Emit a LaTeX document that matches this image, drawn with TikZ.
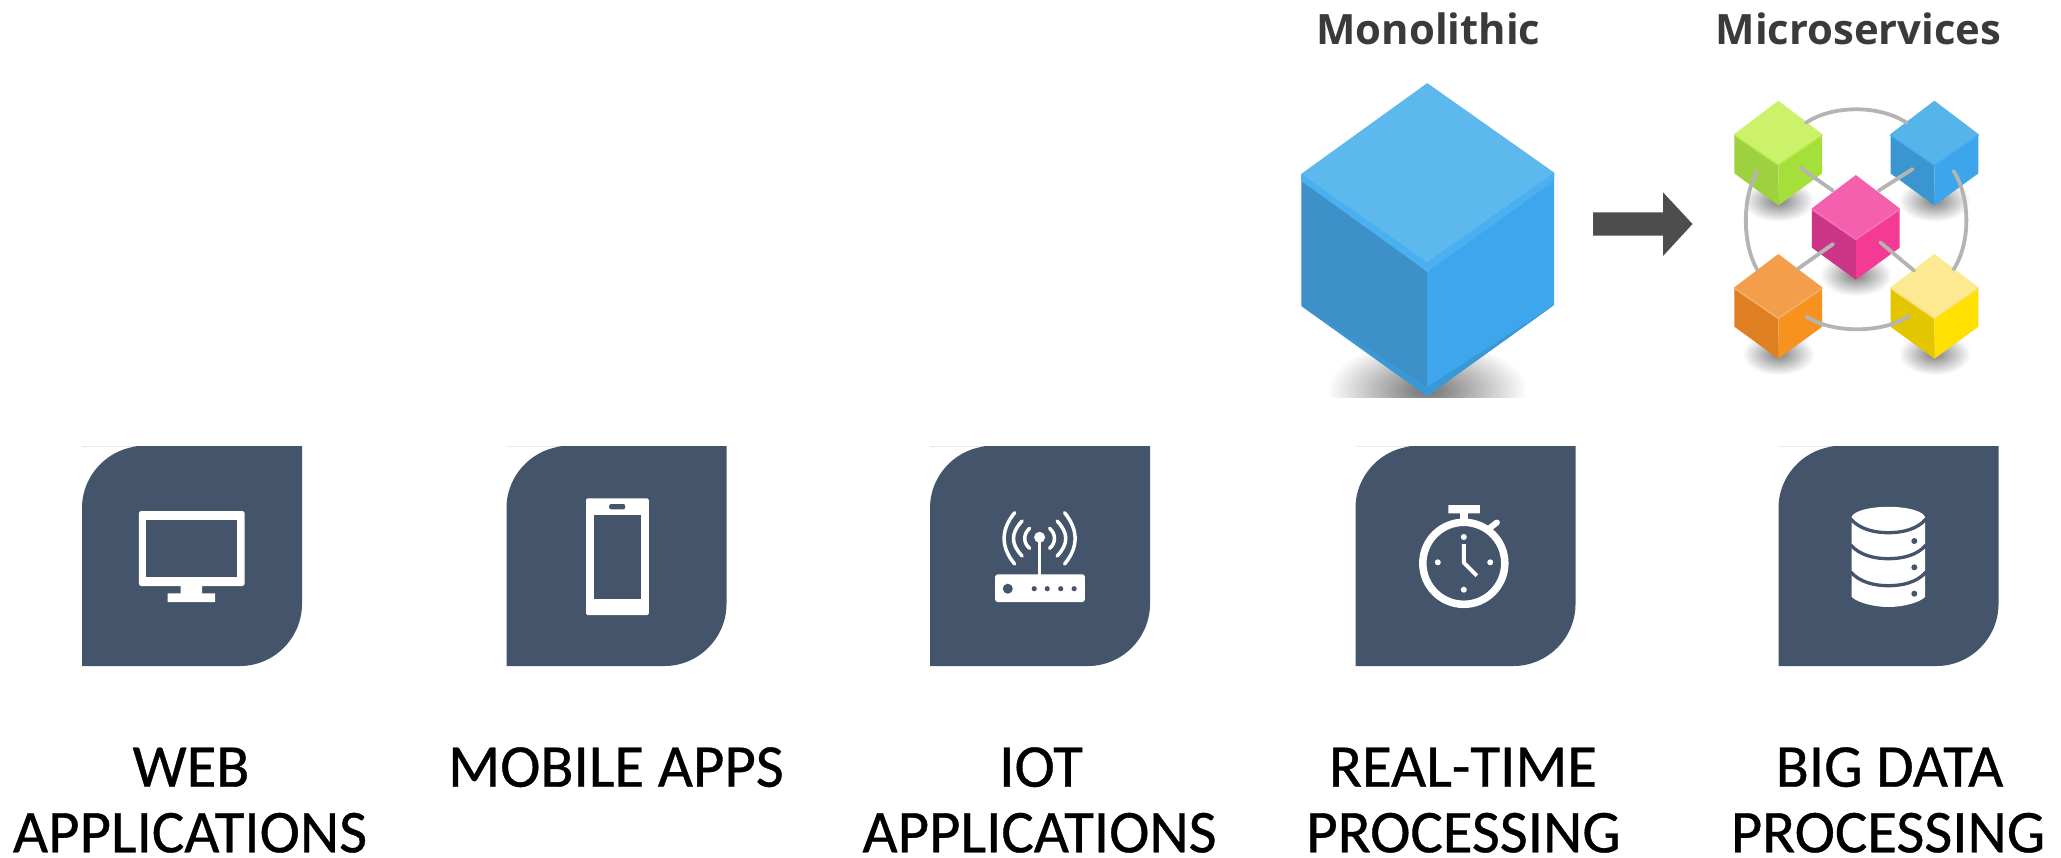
\documentclass[tikz,border=0pt]{standalone}
\usepackage{fontspec}
\setmainfont{Carlito}
\newfontfamily\labfont{Carlito}[FakeBold=0.6]
\newfontfamily\headfont{Open Sans}
\definecolor{tilec}{HTML}{44546A}
\definecolor{linkc}{HTML}{B4B4B4}
\definecolor{arrowc}{HTML}{4D4D4D}
\definecolor{headc}{HTML}{3A3A3A}
\definecolor{bigleft}{HTML}{3D91C8}
\definecolor{bigright}{HTML}{3EA6ED}
\definecolor{bigband}{HTML}{4AB0F0}
\definecolor{bigtop}{HTML}{5DB8EE}
\definecolor{bigfoot}{HTML}{3A98D7}
\definecolor{gT}{HTML}{CCF26B}\definecolor{gL}{HTML}{9ED140}\definecolor{gR}{HTML}{A5E03A}\definecolor{gS}{HTML}{B8EA50}
\definecolor{bT}{HTML}{55B5EB}\definecolor{bL}{HTML}{3B96D0}\definecolor{bR}{HTML}{3CA5EC}\definecolor{bS}{HTML}{4AAEEB}
\definecolor{pT}{HTML}{F45FAE}\definecolor{pL}{HTML}{CC3585}\definecolor{pR}{HTML}{F43A95}\definecolor{pS}{HTML}{F078B8}
\definecolor{oT}{HTML}{F29E4A}\definecolor{oL}{HTML}{E07E22}\definecolor{oR}{HTML}{F8921F}\definecolor{oS}{HTML}{F6B06C}
\definecolor{yT}{HTML}{FDE992}\definecolor{yL}{HTML}{E3C500}\definecolor{yR}{HTML}{FFE000}\definecolor{yS}{HTML}{F8E070}
\tikzset{
  lab/.style={font=\labfont\fontsize{60.8}{60.8}\selectfont, text=black, anchor=base, inner sep=0pt},
  head/.style={font=\headfont\bfseries\fontsize{41.8}{41.8}\selectfont, text=headc, anchor=base, inner sep=0pt},
  wline/.style={draw=white, line width=3.5pt, line cap=round},
  link/.style={draw=linkc, line width=3.8pt, line cap=round},
}
\newcommand{\leaf}[1]{%
  \fill[tilec] (#1,446) -- (#1+220,446) -- (#1+220,604) .. controls (#1+220,638) and (#1+192,666) .. (#1+158,666) -- (#1,666) -- (#1,508) .. controls (#1,474) and (#1+28,446) .. (#1+62,446) -- cycle;}
\newcommand{\minicube}[6]{% cx, top, topc, leftc, rightc, seam
  \fill[#4] (#1-43.9,#2+33.3) -- (#1,#2+63.3) -- (#1,#2+104.7) -- (#1-43.9,#2+72.7) -- cycle;
  \fill[#5] (#1+43.9,#2+33.3) -- (#1,#2+63.3) -- (#1,#2+104.7) -- (#1+43.9,#2+72.7) -- cycle;
  \draw[#6,line width=2pt] (#1-43.9,#2+34) -- (#1,#2+64) -- (#1+43.9,#2+34);
  \fill[#3] (#1,#2) -- (#1+43.9,#2+33.3) -- (#1,#2+63.3) -- (#1-43.9,#2+33.3) -- cycle;
}
\newcommand{\softshadow}[2]{%
  \shade[inner color=black!50,outer color=white] (#1,#2+100) ellipse[x radius=36,y radius=21];}
\begin{document}
\begin{tikzpicture}[x=1pt,y=-1pt]
\useasboundingbox (0,0) rectangle (2061,857);
\fill[white] (0,0) rectangle (2061,857);
% tiles
\leaf{82}\leaf{506.5}\leaf{930}\leaf{1355.5}\leaf{1778.5}
% monitor
\begin{scope}[xshift=-0.5pt]
\fill[white,rounded corners=2.5pt] (139.4,511) rectangle (245.2,586);
\fill[tilec] (146.5,520) rectangle (237,577.3);
\fill[white] (181,585) rectangle (202.6,594) (168,593.3) rectangle (215.6,602);
\end{scope}
% phone
\begin{scope}[xshift=-1.8pt]
\fill[white,rounded corners=1.5pt] (587.8,498.3) rectangle (650.6,615);
\fill[tilec] (595.4,514.7) rectangle (643,599);
\fill[tilec,rounded corners=2pt] (611,504) rectangle (627,509.3);
\end{scope}
% router
\begin{scope}[xshift=-1.2pt]
\fill[white,rounded corners=2.5pt] (996.4,574.3) rectangle (1086,602);
\fill[white] (1040.8,537.3) circle (5.5);
\draw[white,line width=3pt] (1040.8,537.3) -- (1040.8,575);
\fill[tilec] (1009,588.7) circle (5);
\foreach \dx in {1035.4,1048.4,1061.9,1075.3} \fill[tilec] (\dx,588.7) circle (2.6);
\foreach \s in {-1,1} {
  \draw[wline] (1040.8+\s*25,512.7) .. controls (1040.8+\s*39,530) and (1040.8+\s*39,547) .. (1040.8+\s*25,564);
  \draw[wline] (1040.8+\s*17.5,521) .. controls (1040.8+\s*29,533) and (1040.8+\s*29,544) .. (1040.8+\s*17.5,556);
  \draw[wline] (1040.8+\s*10,528.3) .. controls (1040.8+\s*16.5,534) and (1040.8+\s*16.5,543) .. (1040.8+\s*10,548.3);
}
\end{scope}
% stopwatch
\begin{scope}[xshift=-2.6pt]
\draw[white,line width=7.5pt] (1466.4,563.3) circle (41);
\fill[white] (1451,505) rectangle (1482.5,513.3) (1462.8,513) rectangle (1470.4,520);
\draw[white,line width=6pt,line cap=round] (1492,528.3) -- (1499.5,522.5);
\draw[white,line width=4pt,line join=bevel] (1466.4,544) -- (1466.4,562.7) -- (1479.4,575.7);
\foreach \p in {(1466.4,537),(1466.4,589.7),(1440.4,562.3),(1492.8,562.3)} \fill[white] \p circle (3);
\end{scope}
% database
\fill[white] (1851.7,518) -- (1851.7,597) .. controls (1858,603) and (1875,607) .. (1888.3,607) .. controls (1902,607) and (1919,603) .. (1925,597) -- (1925,518) -- cycle;
\fill[white] (1888.3,517.8) ellipse[x radius=36.7,y radius=11];
\foreach \yy in {519,545,572} {
  \draw[tilec,line width=3.3pt] (1850.7,\yy) .. controls (1860,\yy+10.5) and (1875,\yy+13.7) .. (1888.3,\yy+13.7) .. controls (1902,\yy+13.7) and (1917,\yy+10.5) .. (1926,\yy);
}
\foreach \yy in {541,567.3,593.7} \fill[tilec] (1914.3,\yy) circle (3);
% labels
\node[lab] (web1) at (191,786.7) {WEB};
\node[lab] (web2) at (190,852.3) {APPLICATIONS};
\node[lab] (mob) at (616,786.7) {MOBILE APPS};
\node[lab] (iot1) at (1041,786.7) {IOT};
\node[lab] (iot2) at (1039.5,852.3) {APPLICATIONS};
\node[lab] (rt1) at (1463,786.7) {REAL-TIME};
\node[lab] (rt2) at (1463.5,852.3) {PROCESSING};
\node[lab] (bd1) at (1889.5,786.7) {BIG DATA};
\node[lab] (bd2) at (1888,852.3) {PROCESSING};
\node[head] (mono) at (1428.5,44) {Monolithic};
\node[head] (micro) at (1858.5,44) {Microservices};
% big cube
\begin{scope}
  \clip (1320,340) rectangle (1540,397);
  \shade[inner color=black!55,outer color=white] (1427,390) ellipse[x radius=100,y radius=50];
\end{scope}
\fill[bigleft] (1301.4,174) -- (1427.2,271.7) -- (1427.2,396) -- (1301.4,306) -- cycle;
\fill[bigright] (1554,172.7) -- (1427.2,271.7) -- (1427.2,396) -- (1554,305) -- cycle;
\fill[bigband] (1427.2,83.3) -- (1554,172.7) -- (1554,181) -- (1427.2,271.7) -- (1301.4,181) -- (1301.4,174) -- cycle;
\fill[bigtop] (1427.2,83.3) -- (1554,172.7) -- (1427.2,262) -- (1301.4,174) -- cycle;
\fill[bigfoot] (1301.4,306) -- (1427.2,387) -- (1554,305) -- (1427.2,396) -- cycle;
% arrow
\fill[arrowc] (1593,212.3) -- (1663,212.3) -- (1663,192.3) -- (1692.5,224) -- (1663,256) -- (1663,235.7) -- (1593,235.7) -- cycle;
% mini cubes
\begin{scope}[xshift=-2.4pt]
\softshadow{1780.7}{100.7}\softshadow{1936.8}{100.7}\softshadow{1858.2}{175}\softshadow{1780.7}{254}\softshadow{1936.8}{254}
\minicube{1780.7}{100.7}{gT}{gL}{gR}{gS}
\minicube{1936.8}{100.7}{bT}{bL}{bR}{bS}
\minicube{1858.2}{175}{pT}{pL}{pR}{pS}
\minicube{1780.7}{254}{oT}{oL}{oR}{oS}
\minicube{1936.8}{254}{yT}{yL}{yR}{yS}
% links
\coordinate (gA) at (1808.5,122.7); \coordinate (bA) at (1908.9,122.7);
\coordinate (oA) at (1808.9,316.7); \coordinate (yA) at (1911.5,316);
\coordinate (gB) at (1759.4,171.7); \coordinate (oB) at (1759.4,269.3);
\coordinate (bB) at (1956,171); \coordinate (yB) at (1956,269.3);
\coordinate (gC) at (1802.5,167.7); \coordinate (pG) at (1835.4,190.7);
\coordinate (bC) at (1915,169); \coordinate (pB) at (1881,190.7);
\coordinate (pO) at (1835.4,244); \coordinate (oC) at (1800,269);
\coordinate (pY) at (1882.6,242.3); \coordinate (yC) at (1916.5,270.7);
\draw[link] (gA) .. controls (1835,104.8) and (1882,104.8) .. (bA);
\draw[link] (oA) .. controls (1835,333.6) and (1885,333.6) .. (yA);
\draw[link] (gB) .. controls (1744.5,198) and (1744.5,243) .. (oB);
\draw[link] (bB) .. controls (1973,198) and (1973,243) .. (yB);
\draw[link] (gC) -- (pG);
\draw[link] (bC) -- (pB);
\draw[link] (pO) -- (oC);
\draw[link] (pY) -- (yC);
\end{scope}
\end{tikzpicture}
\end{document}
